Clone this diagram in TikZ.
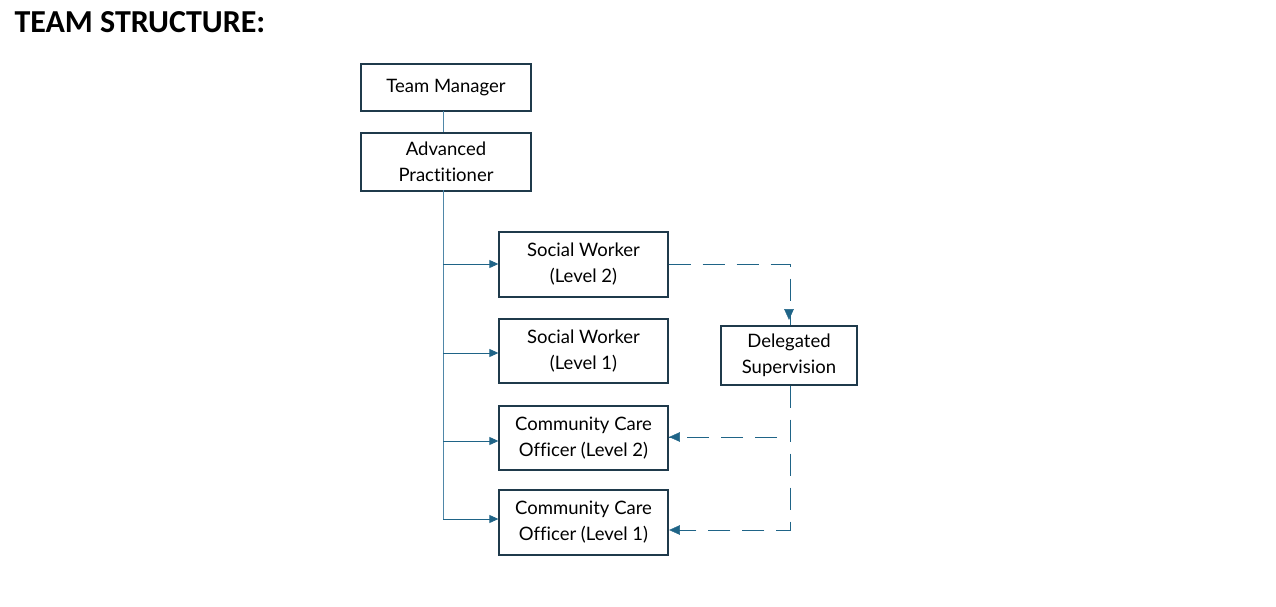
\documentclass[tikz,border=0pt]{standalone}
\usepackage{fontspec}
\setmainfont{Lato}[Ligatures=NoCommon]
\newfontfamily\titlefont{Carlito}
\usetikzlibrary{arrows.meta}
\definecolor{boxline}{HTML}{1F3A4B}
\definecolor{trunk}{HTML}{4F87A8}
\definecolor{conn}{HTML}{1F6487}
\tikzset{
  orgbox/.style={draw=boxline, line width=1.3pt, minimum width=170pt, align=center, font=\fontsize{18.5}{26}\selectfont, inner sep=0pt},
  trunkline/.style={draw=trunk, line width=0.9pt},
  solidarrow/.style={draw=conn, line width=0.9pt, -{Triangle[length=9pt,width=8pt]}},
  dasharrow/.style={draw=conn, line width=0.9pt, dash pattern=on 22pt off 12pt},
}
\begin{document}
\begin{tikzpicture}[x=1pt,y=-1pt]
\useasboundingbox (0,0) rectangle (1276,607);
\node[anchor=base west, font=\titlefont\bfseries\fontsize{32}{34}\selectfont] (title) at (11,33) {TEAM STRUCTURE:};
\node[orgbox, minimum height=47pt] (tm) at (446,87.5) {Team Manager};
\node[orgbox, minimum height=58pt] (ap) at (446,162) {Advanced\\Practitioner};
\node[orgbox, minimum height=65pt, minimum width=169pt] (sw2) at (583.5,264.5) {Social Worker\\(Level 2)};
\node[orgbox, minimum height=64pt, minimum width=169pt] (sw1) at (583.5,351) {Social Worker\\(Level 1)};
\node[orgbox, minimum height=64pt, minimum width=169pt] (cco2) at (583.5,438) {Community Care\\Officer (Level 2)};
\node[orgbox, minimum height=65pt, minimum width=169pt] (cco1) at (583.5,522.5) {Community Care\\Officer (Level 1)};
\node[orgbox, minimum height=59pt, minimum width=136pt] (ds) at (789,355.5) {Delegated\\Supervision};
\coordinate (t0) at (443,190);
\coordinate (t1) at (443,264);
\coordinate (t2) at (443,353);
\coordinate (t3) at (443,441);
\coordinate (t4) at (443,519);
\draw[trunkline] (443,111) -- (443,132);
\draw[trunkline] (t0) -- (t4);
\draw[solidarrow] (t1) -- (t1 -| sw2.west);
\draw[solidarrow] (t2) -- (t2 -| sw1.west);
\draw[solidarrow] (t3) -- (t3 -| cco2.west);
\draw[solidarrow] (t4) -- (t4 -| cco1.west);
\coordinate (d1) at (790,264);
\coordinate (d2) at (790,530);
\coordinate (d3) at (777,437);
\draw[dasharrow] (sw2.east |- d1) -- (d1) -- (d1 |- ds.north);
\draw[conn, fill=conn] (ds.north) ++(0,-6) -- ++(-4.5,-10) -- ++(9,0) -- cycle;
\draw[dasharrow] (d2 |- ds.south) -- (d2) -- (d2 -| cco1.east);
\draw[dasharrow] (d3) -- (d3 -| cco2.east);
\draw[conn, fill=conn] (cco1.east |- d2) ++(1,0) -- ++(10,-4.5) -- ++(0,9) -- cycle;
\draw[conn, fill=conn] (cco2.east |- d3) ++(1,0) -- ++(10,-4.5) -- ++(0,9) -- cycle;
\end{tikzpicture}
\end{document}
